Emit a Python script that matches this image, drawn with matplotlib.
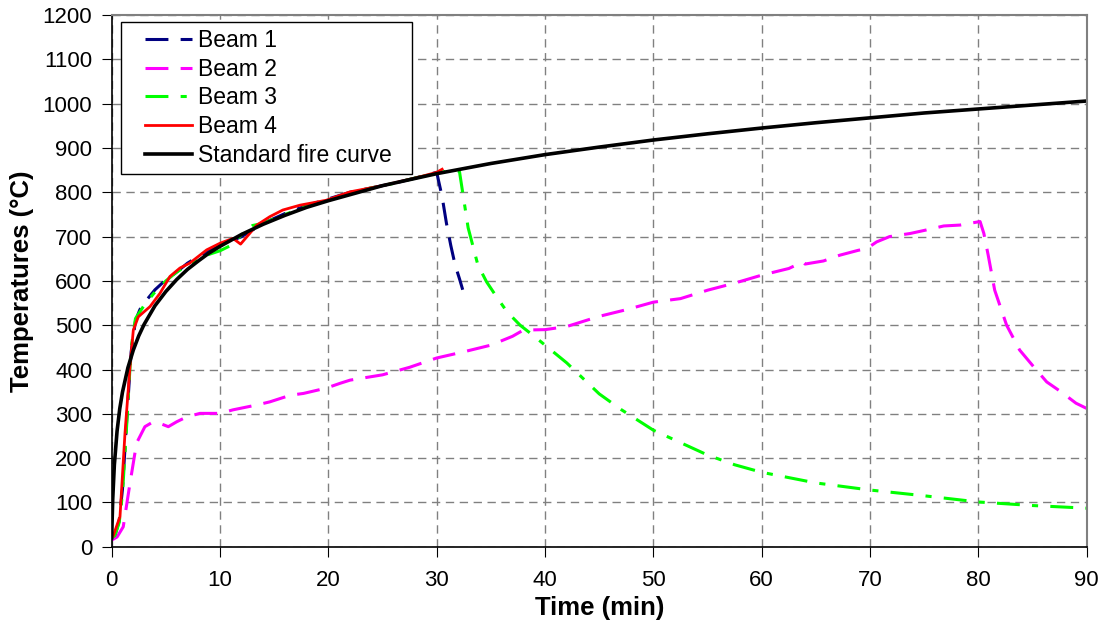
import matplotlib
matplotlib.use("Agg")
import matplotlib.pyplot as plt
from matplotlib.lines import Line2D
from matplotlib.legend_handler import HandlerLine2D

plt.rcParams['font.family'] = ['Liberation Sans', 'DejaVu Sans']

# temperatures (time in min, temperature in degC)
beam1_t = [0, 0.3, 0.7, 1.0, 1.4, 1.8, 2.2, 2.6, 3.0, 3.5, 4.0, 4.8, 6, 7, 8, 9, 10, 12, 14, 16,
           18, 20, 22, 24, 26, 28, 30, 30.5, 30.9, 31.3, 31.7, 32.1, 32.4]
beam1_T = [20, 25, 60, 130, 290, 440, 510, 535, 550, 565, 580, 598, 620, 640, 655, 668, 680, 700, 730, 752,
           770, 785, 800, 810, 820, 832, 845, 790, 730, 680, 636, 605, 580]

beam2_t = [0, 0.5, 1.07, 1.69, 2.3, 3.07, 3.84, 4.5, 5.23, 6.0, 6.92, 8.15, 10, 11.2, 13.4, 14.6, 16.5,
           17.7, 19.8, 21.1, 22, 25, 27.5, 30, 32.5, 35, 37, 38, 40, 42, 45, 47.5, 50, 52.5, 55, 57.5,
           60, 62.5, 63.8, 64.0, 65.7, 67.2, 68.9, 69.7, 70.6, 71.8, 73.7, 75.2, 76.8, 78.3, 80.15,
           80.5, 80.9, 81.5, 82.6, 83.8, 85.1, 86.3, 87.6, 89.0, 90]
beam2_T = [15, 22, 45, 143, 234, 271, 282, 278, 271, 282, 293, 301, 301, 309, 320, 327, 342,
           346, 358, 369, 376, 388, 405, 426, 440, 455, 475, 489, 490, 497, 520, 535, 552, 560, 579, 595,
           613, 628, 643, 638, 645, 658, 669, 673, 688, 700, 707, 715, 724, 726, 734,
           707, 658, 579, 500, 444, 406, 372, 350, 324, 312]

beam3_t = [0, 0.3, 0.7, 1.0, 1.4, 1.8, 2.2, 2.6, 3.0, 4, 5, 6, 7, 8, 9, 10, 11, 12, 13, 14, 16, 18,
           20, 22, 24, 26, 28, 30, 31, 32.1, 32.9, 33.8, 34.6, 35.5, 36.5, 37.7, 39, 40, 42, 45, 47,
           50, 52.5, 55, 57.5, 60, 65, 70, 75, 80, 85, 90]
beam3_T = [20, 25, 55, 120, 280, 450, 515, 530, 545, 575, 600, 620, 635, 650, 660, 668, 680, 705, 725, 730, 750, 768,
           782, 798, 810, 820, 832, 843, 848, 847, 720, 636, 598, 565, 530, 500, 475, 455, 415, 345, 310,
           263, 235, 207, 185, 168, 144, 128, 115, 101, 93, 87]

beam4_t = [0, 0.15, 0.77, 1.23, 1.69, 2.0, 2.46, 3.54, 4.46, 5.38, 6.3, 7.2, 8.77, 10, 11.2, 11.9,
           13.4, 14.6, 15.8, 17.4, 19.8, 22, 25, 28, 30, 30.5]
beam4_T = [20, 25, 68, 256, 406, 489, 519, 542, 572, 610, 629, 640, 670, 685, 696, 683,
           726, 745, 760, 771, 782, 801, 815, 832, 845, 852]

fire_t = [0, 0.1, 0.25, 0.5, 0.75, 1, 1.5, 2, 2.5, 3, 4, 5, 6, 7, 8, 9, 10, 12, 14, 16, 18, 20,
          25, 30, 35, 40, 45, 50, 55, 60, 65, 70, 75, 80, 85, 90]
fire_T = [20, 108, 185, 261, 312, 349, 404, 444, 476, 502, 544, 576, 603, 626, 645, 663, 678, 705, 728, 748, 766, 781,
          815, 842, 865, 885, 902, 918, 932, 945, 957, 968, 979, 988, 997, 1006]

x_ticks = list(range(0, 91, 10))
y_ticks = list(range(0, 1201, 100))


class PaddedLine(HandlerLine2D):
    # leaves blank room left of the legend line, like the Excel legend
    def create_artists(self, legend, orig_handle, xdescent, ydescent, width, height, fontsize, trans):
        pad = 0.75 * fontsize
        return super().create_artists(legend, orig_handle, xdescent - pad, ydescent,
                                      width - pad, height, fontsize, trans)


fig = plt.figure(figsize=(11, 6.27), dpi=100)
ax = fig.add_axes([0.1015, 0.128, 0.8865, 0.848])

ax.plot(beam1_t, beam1_T, color='#000080', lw=2.2, dashes=(7.5, 4), label='Beam 1')
ax.plot(beam2_t, beam2_T, color='#FF00FF', lw=2.2, dashes=(7.5, 4), label='Beam 2')
ax.plot(beam3_t, beam3_T, color='#00FF00', lw=2.2, dashes=(7.5, 4, 2, 4), label='Beam 3')
ax.plot(beam4_t, beam4_T, color='#FF0000', lw=2.0, label='Beam 4')
ax.plot(fire_t, fire_T, color='black', lw=2.6, label='Standard fire curve  ')

ax.set_xlim(0, 90)
ax.set_ylim(0, 1200)
ax.set_xticks(x_ticks)
ax.set_yticks(y_ticks)
ax.tick_params(labelsize=16, direction='out', length=7, color='black')
ax.tick_params(axis='x', pad=10)
ax.tick_params(axis='y', pad=7)
ax.grid(True, color='#808080', ls=(0, (6, 4)), lw=1.0)
for s in ['top', 'right']:
    ax.spines[s].set_color('#808080')
    ax.spines[s].set_linewidth(1.5)
for s in ['left', 'bottom']:
    ax.spines[s].set_color('black')
    ax.spines[s].set_linewidth(1.2)

ax.set_xlabel('Time (min)', fontsize=18.5, fontweight='bold', va='center')
ax.set_ylabel('Temperatures (°C)', fontsize=18.5, fontweight='bold', va='center')
ax.xaxis.set_label_coords(0.5, -0.115)
ax.yaxis.set_label_coords(-0.0915, 0.5)

leg = ax.legend(loc='upper left', bbox_to_anchor=(0.0095, 0.987), fontsize=16.5, frameon=True,
                fancybox=False, edgecolor='black', framealpha=1, borderpad=0.3, borderaxespad=0,
                labelspacing=0.25, handlelength=2.8, handletextpad=0.28,
                handler_map={Line2D: PaddedLine()})
leg.get_frame().set_linewidth(1.0)

fig.savefig('out.png', dpi=100)
